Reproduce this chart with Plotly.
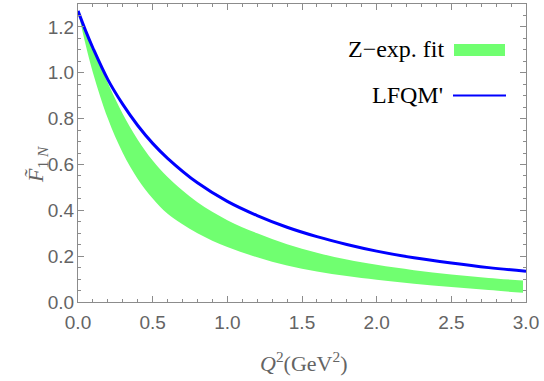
import plotly.graph_objects as go

# Data
q2_blue = [0.0, 0.05, 0.1, 0.2, 0.3, 0.4, 0.5, 0.6, 0.8, 1.0, 1.2, 1.4, 1.6, 1.8, 2.0, 2.25, 2.5, 2.75, 3.0]
lfqm = [1.270, 1.185, 1.108, 0.970, 0.862, 0.770, 0.692, 0.627, 0.520, 0.439, 0.377, 0.326, 0.285, 0.251, 0.222, 0.193, 0.170, 0.150, 0.134]

q2_band = [0.0, 0.05, 0.1, 0.2, 0.3, 0.4, 0.5, 0.6, 0.8, 1.0, 1.2, 1.4, 1.6, 1.8, 2.0, 2.25, 2.5, 2.75, 2.98]
zexp_upper = [1.270, 1.190, 1.108, 0.955, 0.820, 0.708, 0.617, 0.545, 0.435, 0.357, 0.300, 0.252, 0.215, 0.185, 0.162, 0.139, 0.120, 0.105, 0.094]
zexp_lower = [1.270, 1.125, 1.000, 0.800, 0.650, 0.537, 0.451, 0.385, 0.300, 0.240, 0.195, 0.159, 0.133, 0.113, 0.097, 0.080, 0.065, 0.052, 0.040]

x_ticks = [0.0, 0.5, 1.0, 1.5, 2.0, 2.5, 3.0]
y_ticks = [0.0, 0.2, 0.4, 0.6, 0.8, 1.0, 1.2]

W, H = 544, 381
ML, MR, MT, MB = 78, 18, 4, 79
PW, PH = W - ML - MR, H - MT - MB

def px(x):
    return (x - ML) / PW

def py(y):
    return (H - MB - y) / PH

GREEN = "rgb(112,255,112)"
BLUE = "rgb(0,0,255)"
AXC = "rgb(140,140,140)"
TXC = "rgb(100,100,100)"
SERIF = "Liberation Serif, Times New Roman, serif"

fig = go.Figure()
fig.add_trace(go.Scatter(x=q2_band, y=zexp_lower, mode="lines", line=dict(width=0, color=GREEN, shape="spline"),
                         showlegend=False, hoverinfo="skip"))
fig.add_trace(go.Scatter(x=q2_band, y=zexp_upper, mode="lines", line=dict(width=0, color=GREEN, shape="spline"),
                         fill="tonexty", fillcolor=GREEN, showlegend=False))
fig.add_trace(go.Scatter(x=q2_blue, y=lfqm, mode="lines", line=dict(width=3, color=BLUE, shape="spline"),
                         showlegend=False))

axis_common = dict(
    showline=True, linecolor=AXC, linewidth=1.2, mirror="ticks",
    ticks="inside", ticklen=6, tickcolor=AXC, tickwidth=1,
    showgrid=False, zeroline=False,
    tickfont=dict(family="Liberation Sans, Arial, sans-serif", size=19, color=TXC),
)

fig.update_xaxes(range=[0, 3], tickvals=x_ticks, ticktext=[f"{v:.1f}" for v in x_ticks],
                 minor=dict(dtick=0.1, ticks="inside", ticklen=3, tickcolor=AXC),
                 ticklabelstandoff=3,
                 **axis_common)
fig.update_yaxes(range=[0, 1.30], tickvals=y_ticks, ticktext=[f"{v:.1f}" for v in y_ticks],
                 minor=dict(dtick=0.05, ticks="inside", ticklen=3, tickcolor=AXC),
                 ticklabelstandoff=-1,
                 **axis_common)

# axis titles
fig.add_annotation(xref="paper", yref="paper", x=px(304), y=py(362), xanchor="center", yanchor="middle",
                   text="<i>Q</i><sup>2</sup>(GeV<sup>2</sup>)", showarrow=False,
                   font=dict(family=SERIF, size=22, color=TXC))
fig.add_annotation(xref="paper", yref="paper", x=px(37), y=py(165), xanchor="center", yanchor="middle",
                   text="<i>F̃</i><sub>1 <i>N</i></sub>", showarrow=False, textangle=-90,
                   font=dict(family=SERIF, size=22, color=TXC))

# legend (drawn manually, text to the left of the swatch)
fig.add_shape(type="rect", xref="paper", yref="paper", x0=px(454), x1=px(505), y0=py(56), y1=py(44),
              fillcolor=GREEN, line=dict(width=0))
fig.add_shape(type="line", xref="paper", yref="paper", x0=px(453), x1=px(506), y0=py(95.5), y1=py(95.5),
              line=dict(color=BLUE, width=1.8))
fig.add_annotation(xref="paper", yref="paper", x=px(447), y=py(49), xanchor="right", yanchor="middle",
                   text="Z\u2212exp. fit", showarrow=False,
                   font=dict(family=SERIF, size=24, color="black"))
fig.add_annotation(xref="paper", yref="paper", x=px(445), y=py(95), xanchor="right", yanchor="middle",
                   text="LFQM'", showarrow=False,
                   font=dict(family=SERIF, size=24, color="black"))

fig.update_layout(width=W, height=H, margin=dict(l=ML, r=MR, t=MT, b=MB),
                  plot_bgcolor="white", paper_bgcolor="white", showlegend=False)

fig.write_html("out.html", config={"displayModeBar": False},
               post_script="document.body.style.margin='0';document.body.style.padding='0';")
